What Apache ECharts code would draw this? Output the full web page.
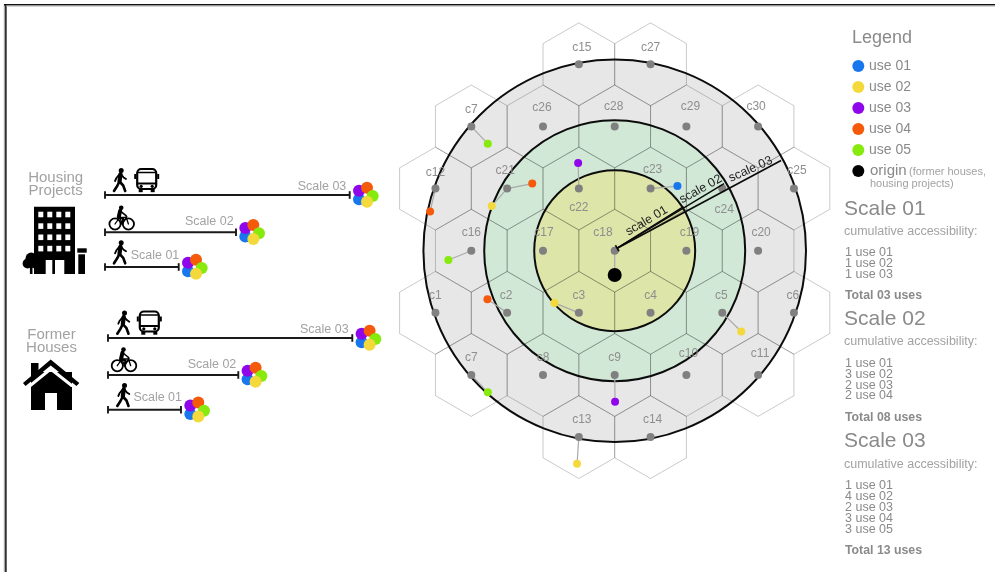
<!DOCTYPE html>
<html><head><meta charset="utf-8">
<style>html,body{margin:0;padding:0;background:#fff}#c{width:995px;height:572px}</style>
<script src="https://cdn.jsdelivr.net/npm/echarts@6/dist/echarts.min.js"></script>
</head><body><div id="c"></div>
<script>
// ---- data ----
const cellNames=['c15','c27','c7','c26','c28','c29','c30','c12','c21','c22','c23','c24','c25','c16','c17','c18','c19','c20','c1','c2','c3','c4','c5','c6','c7','c8','c9','c10','c11','c13','c14'];
const cellCols=[-1,1,-4,-2,0,2,4,-5,-3,-1,1,3,5,-4,-2,0,2,4,-5,-3,-1,1,3,5,-4,-2,0,2,4,-1,1];
const cellRows=[3,3,2,2,2,2,2,1,1,1,1,1,1,0,0,0,0,0,-1,-1,-1,-1,-1,-1,-2,-2,-2,-2,-2,-3,-3];
const ringRadii=[5.336,3.64,2.245];
const useCells=['c7a','c21','c21','c22','c23','c12','c16','c2','c3','c5','c7b','c9','c13'];
const useKinds=[4,3,1,2,0,3,4,3,1,1,4,2,1];
const useX=[-3.54,-2.30,-3.43,-1.02,1.75,-5.15,-4.64,-3.55,-1.68,3.53,-3.54,0.01,-1.05];
const useY=[1.72,1.08,0.72,1.41,1.04,0.63,-0.15,-0.78,-0.84,-1.30,-2.28,-2.43,-3.43];
const originPoint=[0,-0.39];
const rayStart=[0.07,0.04];
const rayEndX=[1.92,3.05,4.64];
const rayEndY=[0.71,1.08,1.45];
const rayLabels=['scale 01','scale 02','scale 03'];
const useNames=['use 01','use 02','use 03','use 04','use 05'];
const barStart=[105,105,105,108,108,108];
const barEnd=[349.7,236,178.7,352.3,238.3,181];
const barRowY=[195,232.3,267,338,375,409.7];
const barLabels=['Scale 03','Scale 02','Scale 01','Scale 03','Scale 02','Scale 01'];
const groupNames=[['Housing','Projects'],['Former','Houses']];
const summaryTitles=['Scale 01','Scale 02','Scale 03'];
const summaryLists=[['1 use 01','1 use 02','1 use 03'],['1 use 01','3 use 02','2 use 03','2 use 04'],['1 use 01','4 use 02','2 use 03','3 use 04','3 use 05']];
const summaryTotals=['Total 03 uses','Total 08 uses','Total 13 uses'];

// ---- styling ----
const useColors=['#1877ee','#f4d93c','#8f06ea','#f55a0a','#86ea0c'];
const ringFills=['#e7e7e7','#d2e8d6','#dde5a9'];
const FF='"Liberation Sans",Arial,sans-serif';
const labelNudge=[[3,-16.6],[0,-16.6],[0,-17],[-1,-19],[-1,-20],[4,-20],[-2,-20],[0,-16],[-2,-18],[0,19],[2,-19],[2,21],[3,-18],[0,-18],[1,-18],[-11.7,-18],[3,-18],[3,-18],[0,-17],[-1,-17],[0,-17],[0,-17],[-1,-17],[-1,-17],[0,-17],[0,-17],[0,-17],[2,-21],[2,-21],[3,-17],[2,-17]];
const cellIndex=n=>n==='c7a'?2:n==='c7b'?24:cellNames.indexOf(n);
const hexV=[[0,2/3],[1,1/3],[1,-1/3],[0,-2/3],[-1,-1/3],[-1,1/3]];
const HEX={xAxisIndex:1,yAxisIndex:1,coordinateSystem:'cartesian2d'};
const PX={xAxisIndex:0,yAxisIndex:0,coordinateSystem:'cartesian2d'};
const txt=(x,y,text,font,fill,align,rot)=>({type:'text',x,y,rotation:rot||0,silent:true,style:{text,font,fill,align:align||'left',verticalAlign:'middle',textAlign:align||'left',textVerticalAlign:'middle'}});

// text table for the page layout
const pageText=[];
const T=(x,y,s,f,c,a)=>pageText.push([x,y,s,f,c,a]);
const gA='#a2a2a2',gB='#8a8a8a';
T(55.7,178,groupNames[0][0],'15px '+FF,gA,'center');T(55.7,191,groupNames[0][1],'15px '+FF,gA,'center');
T(51.5,335,groupNames[1][0],'15px '+FF,gA,'center');T(51.5,348,groupNames[1][1],'15px '+FF,gA,'center');
const barLabelPos=[[322,186.7],[209.3,222],[155,255.3],[324.3,330],[212,364.7],[157.7,397.7]];
barLabels.forEach((s,i)=>T(barLabelPos[i][0],barLabelPos[i][1],s,'12.5px '+FF,gA,'center'));
T(852,38.5,'Legend','18px '+FF,gB);
const legendY=[66,87,108,129,150];
useNames.forEach((s,i)=>T(869,legendY[i],s,'14px '+FF,gB));
T(870,171,'origin','15px '+FF,gB);T(909,171.5,'(former houses,','11px '+FF,gA);T(870,184,'housing projects)','11px '+FF,gA);
const titleY=[209,319.5,441.5],cumY=[231.7,341.7,464.3],listY=[252.5,363.3,485.7],totalY=[296,417.7,551];
summaryTitles.forEach((s,i)=>{
  T(844,titleY[i],s,'21px '+FF,gB);
  T(844,cumY[i],'cumulative accessibility:','12.5px '+FF,gA);
  summaryLists[i].forEach((l,j)=>T(845,listY[i]+j*10.9,l,'12.5px '+FF,gB));
  T(845,totalY[i],summaryTotals[i],'bold 12.3px '+FF,gB);
});
const cellPts=cellNames.map((n,i)=>[cellCols[i],cellRows[i]]);

// ---- icons ----
const B='#000';
const ln=(pts,w)=>({type:'polyline',shape:{points:pts},style:{stroke:B,lineWidth:w,fill:null,lineCap:'round',lineJoin:'round'}});
const dot=(cx,cy,r)=>({type:'circle',shape:{cx,cy,r},style:{fill:B}});
const ring=(cx,cy,r,w)=>({type:'circle',shape:{cx,cy,r},style:{fill:'none',stroke:B,lineWidth:w}});
const rct=(x,y,width,height,fill,r)=>({type:'rect',shape:{x,y,width,height,r:r||0},style:{fill:fill||B}});
const walker=(x,y)=>({type:'group',x,y,children:[dot(1.2,-9.6,2.5),ln([[0.5,-5.8],[-0.5,1.5]],4.2),ln([[0.8,-6],[3.6,-2.6],[6,-1]],1.8),ln([[-0.4,-6],[-3.6,-2],[-5,1]],1.8),ln([[-0.5,1.5],[3.2,5.5],[5.2,11]],2.6),ln([[-0.5,1.5],[-2.8,6],[-6,11]],2.6)]});
const bus=(x,y)=>({type:'group',x,y,children:[
  {type:'rect',shape:{x:-9.5,y:-11,width:19,height:20,r:4},style:{fill:'#fff',stroke:B,lineWidth:2.2}},
  rct(-12.5,-6,2,5),rct(10.5,-6,2,5),ln([[-9,-7.5],[9,-7.5]],1.5),ln([[-9,3.5],[9,3.5]],2),dot(-5.5,6.3,1.6),dot(5.5,6.3,1.6),rct(-8,9,4,3.2),rct(4,9,4,3.2)]});
const bike=(x,y)=>({type:'group',x,y,children:[ring(-6.7,5.7,5.6,1.8),ring(6.7,5.7,5.6,1.8),ln([[-6.7,5.7],[-2,-1],[4.5,-1],[6.7,5.7]],1.3),ln([[-2,-1],[0.5,5.7],[4.5,-1]],1.3),dot(-0.5,-10.5,2.3),ln([[-1.5,-7.5],[-3,-1]],4),ln([[-1,-7],[4,-3],[5,-1.5]],1.6),ln([[-3,-1],[1.5,0.5],[0.5,5.7]],2)]});
const tree=(x,y)=>({type:'group',x,y,children:[
  {type:'circle',shape:{cx:0,cy:-2.5,r:10.5},style:{fill:'#fff'}},
  rct(-12,0,24,11.5,'#fff'),
  {type:'circle',shape:{cx:0,cy:-4.8,r:5.6},style:{fill:B}},
  {type:'circle',shape:{cx:-3.6,cy:0.5,r:5},style:{fill:B}},
  {type:'circle',shape:{cx:3.6,cy:0.5,r:5},style:{fill:B}},rct(-1.3,0,2.6,11)]});
const wins=[];
[38.3,47.3,56.3,65.3].forEach(wx=>[211.7,223.3,234.5,245.8].forEach(wy=>wins.push(rct(wx,wy,5,5.6,'#fff'))));
const building=[rct(34,206.7,41,67.3),...wins,rct(45.7,260,6.6,14,'#fff'),rct(55,260,9.3,14,'#fff'),tree(31.2,263),rct(77.3,248.3,9.4,4.4),rct(78.3,254.3,6.7,19.7)];
const house=[rct(31,372,41,38),rct(45,393,12,17,'#fff'),rct(31,363,7.5,10),
  {type:'polygon',shape:{points:[[50.7,367],[26,387],[31,387],[50.7,371],[71,387],[76,387]]},style:{fill:'#fff'}},
  {type:'polygon',shape:{points:[[50.7,359.5],[23,383],[25.5,386],[50.7,365.5],[76.5,386],[79.3,383]]},style:{fill:B}}];
const frame=[rct(3.8,4,1.4,568,'#a8a8a8'),rct(5.2,4,1.4,568,'#000'),rct(4,4,991,1.5,'#111'),rct(6,5.5,989,1,'#aaa')];
const icons=[walker(120,180),bus(146.7,180),bike(121.7,218.3),walker(120,252.3),walker(123.3,322.7),bus(149.3,322.5),bike(124,360),walker(123.3,395),...building,...house,...frame];

// ---- chart ----
const chart=echarts.init(document.getElementById('c'),null,{renderer:'canvas'});
const hiddenAxis=(min,max,inverse,gridIndex)=>({type:'value',min,max,inverse,gridIndex,show:false,splitLine:{show:false}});
const clusterOff=[[9.3,4.3],[9.3,-4.3],[17.3,-7.3],[23,1],[17.3,6.7]];
const clusterKinds=[0,2,3,4,1];
const clusterData=[];
barEnd.forEach((e,i)=>clusterOff.forEach((o,k)=>clusterData.push({value:[e+o[0],barRowY[i]+o[1]],itemStyle:{color:useColors[clusterKinds[k]],opacity:1}})));
chart.setOption({
  animation:false,backgroundColor:'#fff',tooltip:{show:false},
  grid:[{left:0,top:0,width:995,height:572},{left:399.6,top:2.18,width:430.2,height:497.04}],
  xAxis:[hiddenAxis(0,995,false,0),hiddenAxis(-6,6,false,1)],
  yAxis:[hiddenAxis(0,572,true,0),hiddenAxis(-4,4,false,1)],
  graphic:{elements:icons.map(e=>({...e,silent:true,z:1}))},
  series:[
    {type:'custom',...HEX,z:1,clip:false,silent:true,data:ringRadii.map((r,i)=>[0,0,r,i]),renderItem:(p,api)=>{
      const c=api.coord([0,0]);const r=api.size([api.value(2),0])[0];
      return {type:'circle',shape:{cx:c[0],cy:c[1],r},style:{fill:ringFills[api.value(3)]}};}},
    {type:'custom',...HEX,z:2,clip:false,silent:true,data:cellPts,renderItem:(p,api)=>{
      const a=api.value(0),b=api.value(1);
      return {type:'polygon',shape:{points:hexV.map(v=>api.coord([a+v[0],b+v[1]]))},style:{fill:'none',stroke:'rgba(0,0,0,0.21)',lineWidth:1}};}},
    {type:'custom',...HEX,z:3,clip:false,silent:true,data:ringRadii.map(r=>[0,0,r]),renderItem:(p,api)=>{
      const c=api.coord([0,0]);const r=api.size([api.value(2),0])[0];
      return {type:'circle',shape:{cx:c[0],cy:c[1],r},style:{fill:'none',stroke:'#0c0c0c',lineWidth:2}};}},
    {type:'custom',...HEX,z:4,clip:false,silent:true,data:useX.map((x,i)=>[x,useY[i]]),renderItem:(p,api)=>{
      const k=cellIndex(useCells[p.dataIndex]);
      return {type:'line',shape:(()=>{const s=api.coord(cellPts[k]),e=api.coord([api.value(0),api.value(1)]);return {x1:s[0],y1:s[1],x2:e[0],y2:e[1]};})(),style:{stroke:'#a9a9a9',lineWidth:1.2}};}},
    {type:'custom',...HEX,z:4,clip:false,silent:true,data:[[originPoint[0],originPoint[1]]],renderItem:(p,api)=>{
      const s=api.coord([0,0]),e=api.coord(originPoint);
      return {type:'line',shape:{x1:s[0],y1:s[1],x2:e[0],y2:e[1]},style:{stroke:'#a9a9a9',lineWidth:1.2}};}},
    {type:'scatter',...HEX,z:5,silent:true,symbolSize:8,itemStyle:{color:'#808080',opacity:1},data:cellPts},
    {type:'scatter',...HEX,z:6,silent:true,symbolSize:8,data:useX.map((x,i)=>({value:[x,useY[i]],itemStyle:{color:useColors[useKinds[i]],opacity:1}}))},
    {type:'scatter',...HEX,z:6,silent:true,symbolSize:14,itemStyle:{color:'#000',opacity:1},data:[originPoint]},
    {type:'custom',...HEX,z:7,clip:false,silent:true,data:rayEndX.map((x,i)=>[x,rayEndY[i]]),renderItem:(p,api)=>{
      const s=api.coord(rayStart),e=api.coord([api.value(0),api.value(1)]);
      return {type:'line',shape:{x1:s[0],y1:s[1],x2:e[0],y2:e[1]},style:{stroke:'#0a0a0a',lineWidth:p.dataIndex===2?1.7:1.4}};}},
    {type:'custom',...HEX,z:7,clip:false,silent:true,data:[rayStart],renderItem:(p,api)=>{
      const s=api.coord(rayStart);
      return {type:'line',shape:{x1:s[0]-1.8,y1:s[1]-3,x2:s[0]+1.8,y2:s[1]+3},style:{stroke:'#0a0a0a',lineWidth:1.6}};}},
    {type:'custom',...HEX,z:8,clip:false,silent:true,data:cellPts,renderItem:(p,api)=>{
      const c=api.coord([api.value(0),api.value(1)]),n=labelNudge[p.dataIndex];
      return txt(c[0]+n[0],c[1]+n[1],cellNames[p.dataIndex],'12px '+FF,'#8e8e8e','center');}},
    {type:'custom',...HEX,z:8,clip:false,silent:true,data:[[0.89,0.48],[2.40,0.99],[3.79,1.31]],renderItem:(p,api)=>{
      const c=api.coord([api.value(0),api.value(1)]);
      return txt(c[0],c[1],rayLabels[p.dataIndex],'12.5px '+FF,'#222','center',[31,29,24][p.dataIndex]*Math.PI/180);}},
    // left panel
    {type:'custom',...PX,z:4,clip:false,silent:true,data:barStart.map((s,i)=>[s,barEnd[i],barRowY[i]]),renderItem:(p,api)=>{
      const a=api.coord([api.value(0),api.value(2)]),b=api.coord([api.value(1),api.value(2)]);
      const st={stroke:'#1a1a1a',lineWidth:1.9};
      return {type:'group',children:[
        {type:'line',shape:{x1:a[0],y1:a[1],x2:b[0],y2:b[1]},style:st},
        {type:'line',shape:{x1:a[0],y1:a[1]-3.8,x2:a[0],y2:a[1]+3.8},style:st},
        {type:'line',shape:{x1:b[0],y1:b[1]-3.8,x2:b[0],y2:b[1]+3.8},style:st}]};}},
    {type:'scatter',...PX,z:5,silent:true,symbolSize:12,data:clusterData},
    // legend dots
    {type:'scatter',...PX,z:5,silent:true,symbolSize:12,data:legendY.map((y,i)=>({value:[858.3,y],itemStyle:{color:useColors[i],opacity:1}}))},
    {type:'scatter',...PX,z:5,silent:true,symbolSize:12,itemStyle:{color:'#000',opacity:1},data:[[858.3,171]]},
    // page text
    {type:'custom',...PX,z:9,clip:false,silent:true,data:pageText.map(t=>[t[0],t[1]]),renderItem:(p,api)=>{
      const t=pageText[p.dataIndex],c=api.coord([t[0],t[1]]);
      return txt(c[0],c[1],t[2],t[3],t[4],t[5]);}}
  ]
});
</script></body></html>
